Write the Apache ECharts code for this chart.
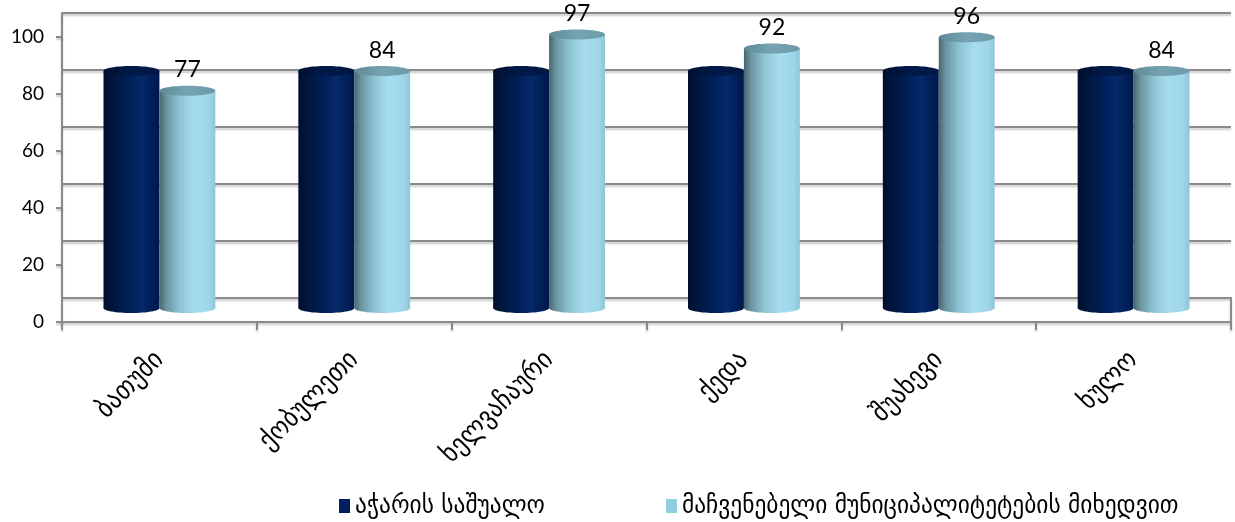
<!DOCTYPE html>
<html>
<head>
<meta charset="utf-8">
<script src="https://cdn.jsdelivr.net/npm/echarts@6/dist/echarts.min.js"></script>
<style>
  html, body { margin: 0; padding: 0; background: #ffffff; }
  #chart { width: 1235px; height: 522px; }
</style>
</head>
<body>
<div id="chart"></div>
<script>
// Municipalities of Adjara
const categories = ['ბათუმი', 'ქობულეთი', 'ხელვაჩაური', 'ქედა', 'შუახევი', 'ხულო'];
// Regional average (same for every municipality)
const adjaraAverage = [84, 84, 84, 84, 84, 84];
// Indicator per municipality
const municipalValues = [77, 84, 97, 92, 96, 84];
// Value-axis ticks
const valueTicks = [0, 20, 40, 60, 80, 100];
const seriesNames = ['აჭარის საშუალო', 'მაჩვენებელი მუნიციპალიტეტების მიხედვით'];

const vMin = valueTicks[0];
const vMax = valueTicks[valueTicks.length - 1];
const vStep = valueTicks[1] - valueTicks[0];

const GEO_FONT = '"DejaVu Sans Condensed", "DejaVu Sans", sans-serif';
const NUM_FONT = 'Lato, "Open Sans", sans-serif';
const LINE = { color: '#8a8a8a', width: 2, shadowColor: 'rgba(0,0,0,0.22)', shadowBlur: 2, shadowOffsetY: 2 };

const palettes = [
  {
    body: [
      { offset: 0, color: '#000e2c' },
      { offset: 0.18, color: '#00173f' },
      { offset: 0.5, color: '#00215c' },
      { offset: 0.68, color: '#06296a' },
      { offset: 0.88, color: '#001e57' },
      { offset: 1, color: '#00184a' }
    ],
    top: [
      { offset: 0, color: '#000f30' },
      { offset: 0.5, color: '#001a4a' },
      { offset: 1, color: '#001742' }
    ]
  },
  {
    body: [
      { offset: 0, color: '#47666f' },
      { offset: 0.12, color: '#6a939f' },
      { offset: 0.35, color: '#8dc2d1' },
      { offset: 0.62, color: '#a6ddee' },
      { offset: 0.88, color: '#a0d7e8' },
      { offset: 1, color: '#8ec5d7' }
    ],
    top: [
      { offset: 0, color: '#5f8a96' },
      { offset: 0.5, color: '#75a3b1' },
      { offset: 1, color: '#6e9aa8' }
    ]
  }
];

// Draws one cylinder per category; slot 0 sits left of the category centre, slot 1 right.
function cylinderItem(slot, palette, withLabel) {
  return function (params, api) {
    const idx = api.value(0);
    const val = api.value(1);
    const top = api.coord([idx, val]);
    const base = api.coord([idx, 0]);
    const band = api.size([1, 0])[0];
    const w = band * 0.287;
    const rx = w / 2;
    const ry = 5;
    const cx = top[0] + (slot - 0.5) * w;
    const bodyFill = new echarts.graphic.LinearGradient(0, 0, 1, 0, palette.body);
    const topFill = new echarts.graphic.LinearGradient(0, 0, 1, 0, palette.top);
    const children = [
      { type: 'ellipse', shape: { cx: cx, cy: base[1], rx: rx, ry: ry }, style: { fill: bodyFill } },
      { type: 'rect', shape: { x: cx - rx, y: top[1], width: w, height: base[1] - top[1] }, style: { fill: bodyFill } },
      { type: 'ellipse', shape: { cx: cx, cy: top[1], rx: rx, ry: ry }, style: { fill: topFill } }
    ];
    if (withLabel) {
      children.push({
        type: 'text',
        style: {
          text: String(val), x: cx, y: top[1] - 21,
          align: 'center', verticalAlign: 'middle',
          fontSize: 23, fontFamily: NUM_FONT, fill: '#000000'
        }
      });
    }
    return { type: 'group', children: children };
  };
}

const hiddenCat = (grid) => ({ type: 'category', gridIndex: grid, data: categories, show: false, boundaryGap: true });
const valueBase = (grid) => ({ type: 'value', gridIndex: grid, min: vMin, max: vMax, interval: vStep });

const chart = echarts.init(document.getElementById('chart'), null, { renderer: 'canvas' });
chart.setOption({
  backgroundColor: '#ffffff',
  animation: false,
  grid: [
    { left: 62, right: 4, top: 37, height: 285 },   // front value scale
    { left: 62, right: 4, top: 13, height: 309 },   // frame + categories
    { left: 62, right: 4, top: 13, height: 285 },   // back wall
    { left: 62, right: 4, top: 26, height: 282 },   // cylinders
    { left: 62, right: 4, top: 298, height: 24 }    // floor right edge
  ],
  xAxis: [
    hiddenCat(0),
    {
      type: 'category', gridIndex: 1, data: categories, boundaryGap: true,
      axisLine: { show: true, lineStyle: LINE },
      axisTick: { show: true, length: 8, lineStyle: LINE },
      axisLabel: {
        rotate: 45, margin: 34, interval: 0,
        fontFamily: GEO_FONT, fontSize: 27, color: '#000000'
      },
      splitLine: { show: false }
    },
    hiddenCat(2),
    hiddenCat(3),
    hiddenCat(4)
  ],
  yAxis: [
    Object.assign(valueBase(0), {
      axisLine: { show: false },
      axisTick: { show: true, length: 6, lineStyle: LINE },
      axisLabel: { margin: 18, fontFamily: NUM_FONT, fontSize: 19, color: '#000000' },
      splitLine: { show: false }
    }),
    Object.assign(valueBase(1), {
      axisLine: { show: true, lineStyle: LINE },
      axisTick: { show: false }, axisLabel: { show: false }, splitLine: { show: false }
    }),
    Object.assign(valueBase(2), {
      axisLine: { show: false }, axisTick: { show: false }, axisLabel: { show: false },
      splitLine: { show: true, lineStyle: LINE }
    }),
    Object.assign(valueBase(3), { show: false }),
    Object.assign(valueBase(4), {
      position: 'right',
      axisLine: { show: true, lineStyle: LINE },
      axisTick: { show: false }, axisLabel: { show: false }, splitLine: { show: false }
    })
  ],
  legend: [
    {
      data: [seriesNames[0]], left: 334, top: 488,
      icon: 'rect', itemWidth: 11, itemHeight: 14,
      textStyle: { fontFamily: GEO_FONT, fontSize: 26, color: '#000000' }
    },
    {
      data: [seriesNames[1]], left: 661, top: 488,
      icon: 'rect', itemWidth: 11, itemHeight: 14,
      textStyle: { fontFamily: GEO_FONT, fontSize: 26, color: '#000000' }
    }
  ],
  series: [
    {
      name: seriesNames[0], type: 'custom', xAxisIndex: 3, yAxisIndex: 3,
      itemStyle: { color: '#002060' },
      encode: { x: 0, y: 1 },
      renderItem: cylinderItem(0, palettes[0], false),
      data: adjaraAverage.map((v, i) => [i, v])
    },
    {
      name: seriesNames[1], type: 'custom', xAxisIndex: 3, yAxisIndex: 3,
      itemStyle: { color: '#92cddc' },
      encode: { x: 0, y: 1 },
      renderItem: cylinderItem(1, palettes[1], true),
      data: municipalValues.map((v, i) => [i, v])
    }
  ]
});
</script>
</body>
</html>
